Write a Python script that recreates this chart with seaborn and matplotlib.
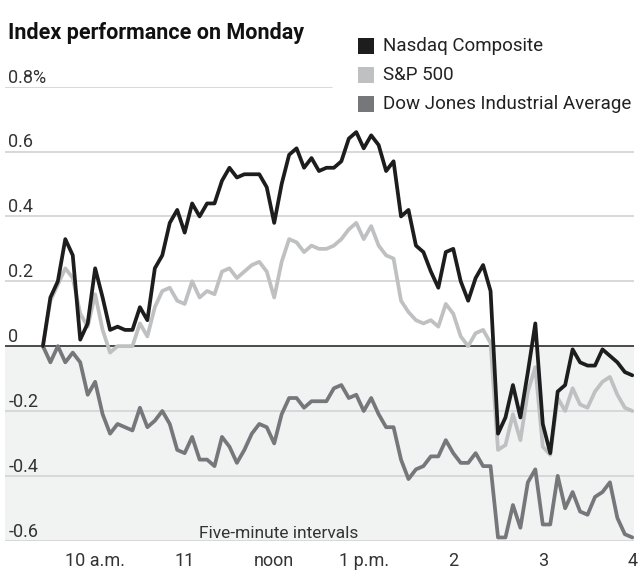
import matplotlib
matplotlib.use("Agg")
import matplotlib.pyplot as plt
import matplotlib.transforms as mtransforms
from matplotlib.patches import Rectangle
import numpy as np
import pandas as pd
import seaborn as sns

# five-minute marks, 9:25 to 4:00, in hours
times = np.arange(9 * 60 + 25, 16 * 60 + 1, 5) / 60

nasdaq = [0, 0.15, 0.20, 0.33, 0.28, 0.02, 0.07, 0.24, 0.15, 0.05,
          0.06, 0.05, 0.05, 0.12, 0.08, 0.24, 0.28, 0.38, 0.42, 0.35,
          0.44, 0.40, 0.44, 0.44, 0.51, 0.55, 0.52, 0.53, 0.53, 0.53,
          0.49, 0.38, 0.50, 0.59, 0.61, 0.55, 0.58, 0.54, 0.55, 0.55,
          0.57, 0.64, 0.66, 0.61, 0.65, 0.62, 0.54, 0.57, 0.40, 0.42,
          0.31, 0.29, 0.23, 0.18, 0.29, 0.30, 0.20, 0.14, 0.21, 0.25,
          0.17, -0.27, -0.22, -0.12, -0.22, -0.08, 0.07, -0.24, -0.33, -0.14,
          -0.12, -0.01, -0.05, -0.06, -0.06, -0.01, -0.03, -0.05, -0.08, -0.09]

sp500 = [0, 0.14, 0.19, 0.24, 0.21, 0.10, 0.06, 0.16, 0.05, -0.02,
         0, 0, 0, 0.07, 0.03, 0.12, 0.17, 0.18, 0.14, 0.13,
         0.20, 0.15, 0.17, 0.16, 0.23, 0.24, 0.21, 0.23, 0.25, 0.26,
         0.23, 0.15, 0.26, 0.33, 0.32, 0.29, 0.31, 0.30, 0.30, 0.31,
         0.33, 0.36, 0.38, 0.33, 0.37, 0.31, 0.28, 0.27, 0.14, 0.105,
         0.08, 0.07, 0.08, 0.06, 0.13, 0.10, 0.03, 0.0, 0.04, 0.05,
         0.01, -0.32, -0.305, -0.21, -0.29, -0.14, -0.065, -0.31, -0.335, -0.16,
         -0.20, -0.13, -0.18, -0.19, -0.14, -0.11, -0.095, -0.15, -0.19, -0.20]

dow = [0, -0.05, 0, -0.05, -0.02, -0.05, -0.15, -0.11, -0.21, -0.27,
       -0.24, -0.25, -0.26, -0.19, -0.25, -0.23, -0.20, -0.24, -0.32, -0.33,
       -0.28, -0.35, -0.35, -0.37, -0.28, -0.31, -0.36, -0.32, -0.27, -0.24,
       -0.25, -0.30, -0.21, -0.16, -0.16, -0.19, -0.17, -0.17, -0.17, -0.13,
       -0.12, -0.16, -0.15, -0.20, -0.16, -0.21, -0.25, -0.25, -0.35, -0.41,
       -0.38, -0.37, -0.34, -0.34, -0.29, -0.33, -0.36, -0.36, -0.33, -0.37,
       -0.37, -0.59, -0.59, -0.49, -0.56, -0.42, -0.38, -0.55, -0.55, -0.40,
       -0.50, -0.45, -0.51, -0.52, -0.465, -0.45, -0.42, -0.53, -0.58, -0.59]

names = ["Nasdaq Composite", "S&P 500", "Dow Jones Industrial Average"]
colors = ["#1d1d1d", "#bfc0c2", "#76777a"]
y_ticks = [-0.6, -0.4, -0.2, 0, 0.2, 0.4, 0.6, 0.8]
y_labels = ["-0.6", "-0.4", "-0.2", "0", "0.2", "0.4", "0.6", "0.8%"]
x_ticks = [10, 11, 12, 13, 14, 15, 16]
x_labels = ["10 a.m.", "11", "noon", "1 p.m.", "2", "3", "4"]

df = pd.DataFrame({"time": np.tile(times, 3),
                   "value": nasdaq + sp500 + dow,
                   "index": np.repeat(names, len(times))})

sns.set_style("white")
plt.rcParams["font.family"] = ["Roboto", "DejaVu Sans"]

fig = plt.figure(figsize=(6.44, 5.84), dpi=100)
ax = fig.add_axes([5 / 644, 1 - 540.7 / 584, 629 / 644, (540.7 - 86.7) / 584])

ax.axhspan(-0.6, 0, color="#f1f2f2", zorder=0, lw=0)
for v in y_ticks[:-1]:
    ax.axhline(v, color="#d6d6d6", lw=1.3, zorder=1)
ax.axhline(0.8, xmax=0.52, color="#d6d6d6", lw=1.3, zorder=1)
ax.axhline(0, color="#333333", lw=1.2, zorder=2)

# draw Dow first, then S&P, then Nasdaq on top
sns.lineplot(data=df, x="time", y="value", hue="index",
             hue_order=names[::-1], palette=colors[::-1],
             lw=2.7, legend=False, ax=ax, zorder=3)

ax.set_xlim(8.993, 16.019)
ax.set_ylim(-0.6, 0.8)
sns.despine(ax=ax, left=True, bottom=True)
ax.set_xlabel("")
ax.set_ylabel("")
ax.set_yticks([])
ax.set_xticks(x_ticks)
ax.set_xticklabels(x_labels, fontsize=13, color="#333333")
ax.tick_params(axis="x", length=6, width=1, color="#555555", pad=2, direction="out")

trans = mtransforms.blended_transform_factory(ax.transAxes, ax.transData)
for v, lab in zip(y_ticks, y_labels):
    ax.annotate(lab, (0.005, v), xycoords=trans, xytext=(0, 3),
                textcoords="offset points", va="baseline", ha="left",
                fontsize=13, color="#333333")

ax.text(12.05, -0.6, "Five-minute intervals", transform=ax.transData,
        ha="center", va="bottom", fontsize=12.5, color="#333333")

fig.text(8 / 644, 1 - 33 / 584, "Index performance on Monday",
         fontsize=15.5, fontweight="bold", color="#111111", va="center")

for k, (name, c) in enumerate(zip(names, colors)):
    yc = 46 + 29 * k
    fig.patches.append(Rectangle((358 / 644, 1 - (yc + 8) / 584), 16 / 644, 16 / 584,
                                 transform=fig.transFigure, color=c, lw=0))
    fig.text(383 / 644, 1 - yc / 584, name, fontsize=13.5, color="#222222", va="center")

fig.savefig("out.png", dpi=100)
